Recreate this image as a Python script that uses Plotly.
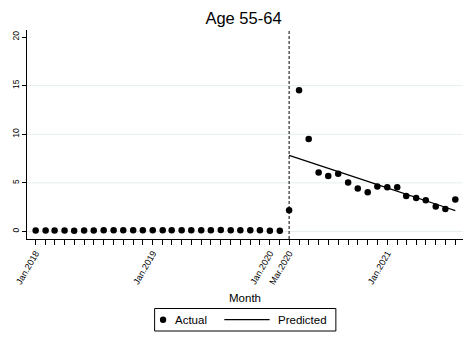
import pandas as pd
import plotly.graph_objects as go

# Monthly series, Jan 2018 - Aug 2021
months = pd.date_range("2018-01-01", "2021-08-01", freq="MS")

# Observed values, Jan 2018 - Feb 2020 (pre-period)
actual_pre = [0.10, 0.11, 0.10, 0.10, 0.09, 0.10, 0.10, 0.14, 0.14, 0.13,
              0.13, 0.14, 0.13, 0.12, 0.12, 0.12, 0.12, 0.13, 0.14, 0.16,
              0.14, 0.13, 0.13, 0.12, 0.08, 0.07]
# Observed values, Mar 2020 - Aug 2021
actual_post = [2.18, 14.53, 9.50, 6.08, 5.71, 5.95, 5.03, 4.41, 4.03, 4.62,
               4.55, 4.55, 3.66, 3.45, 3.21, 2.56, 2.32, 3.28]
# Fitted trend, Mar 2020 - Aug 2021
predicted = [7.83, 7.50, 7.16, 6.83, 6.49, 6.16, 5.83, 5.49, 5.16, 4.82,
             4.49, 4.16, 3.82, 3.49, 3.15, 2.82, 2.49, 2.15]

break_month = "2020-03-01"
labelled_months = {"2018-01-01": "Jan.2018", "2019-01-01": "Jan.2019",
                   "2020-01-01": "Jan.2020", "2020-03-01": "Mar.2020",
                   "2021-01-01": "Jan.2021"}
y_ticks = [0, 5, 10, 15, 20]
grid_levels = [0, 5, 10, 15]

actual = actual_pre + actual_post
post_months = months[len(actual_pre):]

FONT = "Liberation Sans, Arial, sans-serif"
W, H = 474, 343
L, R, T, B = 24, 11, 30, 104
PW, PH = W - L - R, H - T - B


def px_x(px):
    return (px - L) / PW


def px_y(py):
    return (H - B - py) / PH


fig = go.Figure()

fig.add_trace(go.Scatter(
    x=months, y=actual, mode="markers", name="Actual",
    marker=dict(color="black", size=6.5), showlegend=False,
))
fig.add_trace(go.Scatter(
    x=post_months, y=predicted, mode="lines", name="Predicted",
    line=dict(color="black", width=1.2), showlegend=False,
))

# light horizontal grid
for g in grid_levels:
    fig.add_shape(type="line", xref="paper", x0=0, x1=1, yref="y", y0=g, y1=g,
                  line=dict(color="#e6eef0", width=1), layer="below")

# intervention marker
fig.add_shape(type="line", xref="x", x0=break_month, x1=break_month,
              yref="paper", y0=0, y1=1,
              line=dict(color="black", width=1, dash="3px,2px"))

# legend box
fig.add_shape(type="rect", xref="paper", yref="paper",
              x0=px_x(152.5), x1=px_x(335), y0=px_y(331), y1=px_y(308.5),
              line=dict(color="black", width=1), fillcolor="white")
cy = 319.7
fig.add_shape(type="circle", xref="paper", yref="paper",
              x0=px_x(161 - 3.2), x1=px_x(161 + 3.2),
              y0=px_y(cy + 3.2), y1=px_y(cy - 3.2),
              line=dict(color="black", width=0), fillcolor="black")
fig.add_shape(type="line", xref="paper", yref="paper",
              x0=px_x(222.7), x1=px_x(268.3), y0=px_y(cy), y1=px_y(cy),
              line=dict(color="black", width=1.2))
for txt, px in (("Actual", 171.5), ("Predicted", 275)):
    fig.add_annotation(text=txt, xref="paper", yref="paper",
                       x=px_x(px), y=px_y(cy), xanchor="left", yanchor="middle",
                       showarrow=False, font=dict(family=FONT, size=11.5, color="black"))

tick_vals = list(months)
tick_text = [labelled_months.get(m.strftime("%Y-%m-%d"), "") for m in months]

fig.update_layout(
    width=W, height=H,
    margin=dict(l=L, r=R, t=T, b=B),
    paper_bgcolor="white", plot_bgcolor="white",
    font=dict(family=FONT, color="black"),
    title=dict(text="Age 55-64", x=243.5 / W, xanchor="center",
               y=1 - 18.5 / H, yanchor="middle", yref="container",
               font=dict(family=FONT, size=16.5, color="black")),
    xaxis=dict(
        type="date", range=["2017-12-05", "2021-08-25"],
        tickmode="array", tickvals=tick_vals, ticktext=tick_text,
        tickangle=-60, ticks="outside", ticklen=4.5, tickwidth=1, tickcolor="black",
        tickfont=dict(family=FONT, size=9, color="black"),
        showline=True, linecolor="black", linewidth=1,
        showgrid=False, zeroline=False,
        title=dict(text="Month", font=dict(family=FONT, size=11.5, color="black"),
                   standoff=8),
    ),
    yaxis=dict(
        range=[-0.77, 20.72], tickmode="array", tickvals=y_ticks,
        tickangle=-90, ticks="outside", ticklen=4, tickwidth=1, tickcolor="black",
        tickfont=dict(family=FONT, size=8.5, color="black"),
        showline=True, linecolor="black", linewidth=1,
        showgrid=False, zeroline=False,
    ),
)

fig.write_html("out.html")
